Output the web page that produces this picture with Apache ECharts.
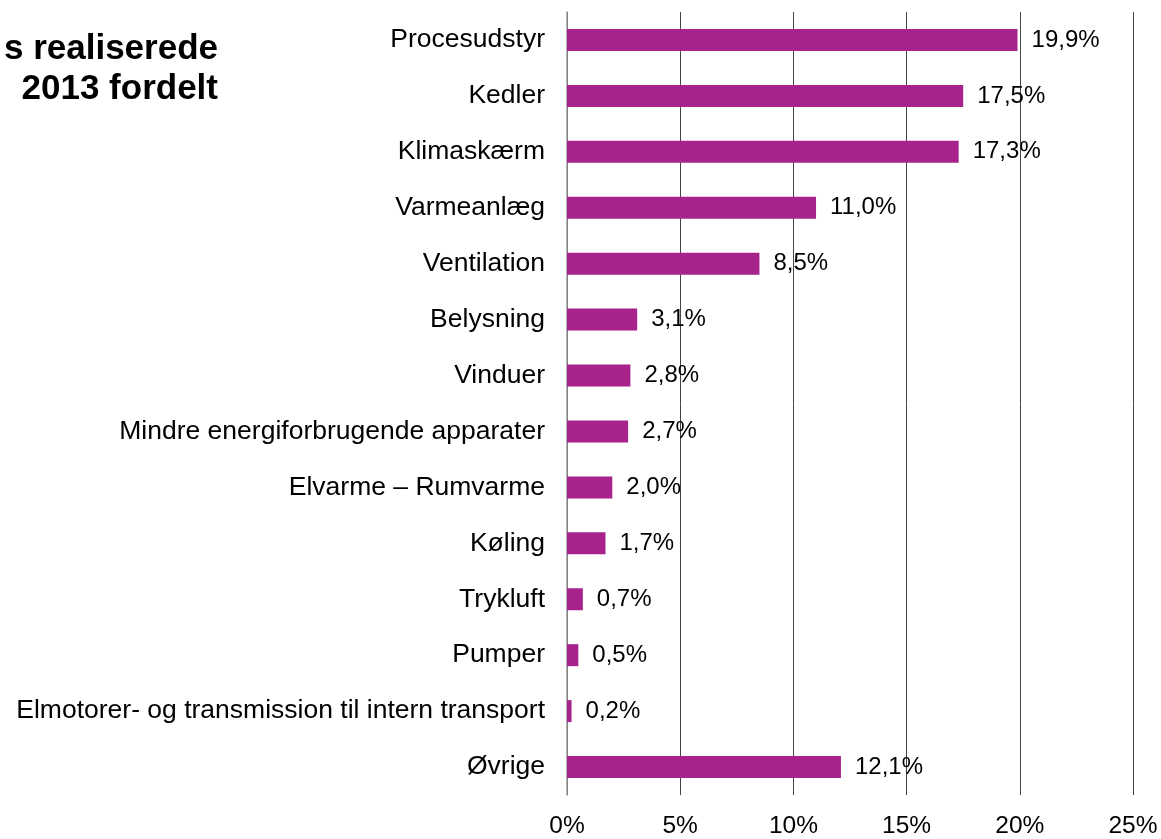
<!DOCTYPE html>
<html>
<head>
<meta charset="utf-8">
<script src="https://cdn.jsdelivr.net/npm/echarts@6/dist/echarts.min.js"></script>
<style>
  html, body { margin: 0; padding: 0; background: #fff; }
  #chart { width: 1161px; height: 839px; }
</style>
</head>
<body>
<div id="chart"></div>
<script>
const categories = [
  'Procesudstyr', 'Kedler', 'Klimaskærm', 'Varmeanlæg', 'Ventilation', 'Belysning', 'Vinduer',
  'Mindre energiforbrugende apparater', 'Elvarme – Rumvarme', 'Køling', 'Trykluft', 'Pumper',
  'Elmotorer- og transmission til intern transport', 'Øvrige'
];
const shares = [19.9, 17.5, 17.3, 11.0, 8.5, 3.1, 2.8, 2.7, 2.0, 1.7, 0.7, 0.5, 0.2, 12.1];
const titleLines = ['s realiserede', '2013 fordelt'];

const chart = echarts.init(document.getElementById('chart'));
const font = 'Liberation Sans, Arial, sans-serif';

chart.setOption({
  animation: false,
  graphic: [{
    type: 'text',
    x: 218,
    y: 29,
    style: {
      text: titleLines.join('\n'),
      align: 'right',
      verticalAlign: 'top',
      font: 'bold 35px ' + font,
      lineHeight: 40,
      fill: '#000'
    }
  }],
  grid: { left: 567, right: 28, top: 12, bottom: 43 },
  xAxis: {
    type: 'value',
    min: 0, max: 25, interval: 5,
    axisLine: { show: false },
    axisTick: { show: false },
    axisLabel: { formatter: '{value}%', fontFamily: font, fontSize: 24.5, color: '#000', margin: 19 },
    splitLine: { lineStyle: { color: '#444', width: 1 } }
  },
  yAxis: {
    type: 'category',
    inverse: true,
    data: categories,
    axisLine: { lineStyle: { color: '#999', width: 1.5 } },
    axisTick: { show: false },
    axisLabel: { fontFamily: font, fontSize: 26.5, color: '#000', margin: 22 }
  },
  series: [{
    type: 'bar',
    data: shares,
    barWidth: 22,
    itemStyle: { color: '#A8228C' },
    label: {
      show: true,
      position: 'right',
      distance: 14,
      fontFamily: font, fontSize: 24, color: '#000',
      formatter: p => p.value.toFixed(1).replace('.', ',') + '%'
    },
    z: 1
  }]
});
</script>
</body>
</html>
